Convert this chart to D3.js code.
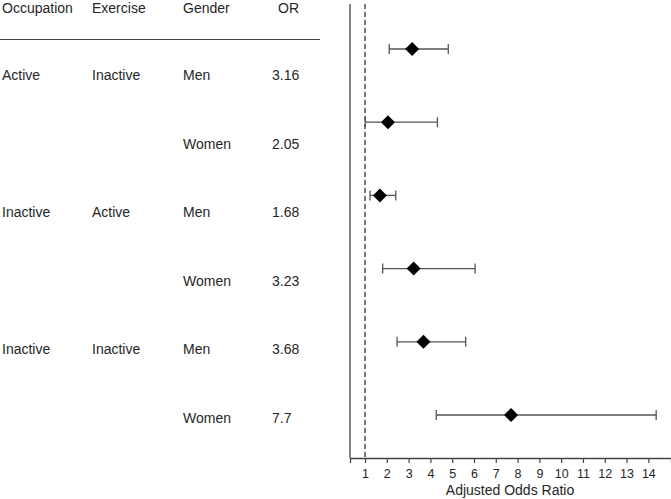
<!DOCTYPE html>
<html><head><meta charset="utf-8">
<script src="https://cdn.jsdelivr.net/npm/d3@7"></script>
<style>body{margin:0;background:#fff}svg{display:block}text{font-family:Arial,"Liberation Sans",sans-serif}</style>
</head><body><svg id="c" width="671" height="499"></svg>
<script>
const occupation = ["Active", "", "Inactive", "", "Inactive", ""];
const exercise   = ["Inactive", "", "Active", "", "Inactive", ""];
const gender     = ["Men", "Women", "Men", "Women", "Men", "Women"];
const orLabels   = ["3.16", "2.05", "1.68", "3.23", "3.68", "7.7"];
const orValues   = [3.16, 2.05, 1.68, 3.23, 3.68, 7.7];
const ciLow      = [2.11, 1.01, 1.23, 1.81, 2.47, 4.27];
const ciHigh     = [4.82, 4.32, 2.41, 6.05, 5.62, 14.36];
const headers    = ["Occupation", "Exercise", "Gender", "OR"];
const tickValues = [1,2,3,4,5,6,7,8,9,10,11,12,13,14];

const svg = d3.select("#c");
const rows = d3.range(orValues.length);

const x = d3.scaleLinear().domain([0.31, 15.04]).range([350, 671]);
const yPt = d3.scalePoint().domain(rows).range([49, 415]);
const yTx = d3.scalePoint().domain(rows).range([75, 418]);
const axisY = 458;
const textColor = "#262626";

// table header
const colX = [2, 92, 183, 278];
svg.selectAll("text.hdr").data(headers).join("text")
  .attr("class","hdr").attr("x",(d,i)=>colX[i]).attr("y",8)
  .attr("dy","0.35em").attr("font-size",14).attr("fill",textColor).text(d=>d);
svg.append("line").attr("x1",0).attr("x2",320).attr("y1",39.5).attr("y2",39.5)
  .attr("stroke","#444").attr("stroke-width",1.2);

// table body
const cols = [occupation, exercise, gender, orLabels];
const bodyX = [2, 92, 183, 272];
cols.forEach((arr,ci)=>{
  svg.append("g").selectAll("text").data(arr).join("text")
    .attr("x",bodyX[ci]).attr("y",(d,i)=>yTx(i)).attr("dy","0.35em")
    .attr("font-size",14).attr("fill",textColor).text(d=>d);
});

// vertical frame line & reference line
svg.append("line").attr("x1",350).attr("x2",350).attr("y1",4).attr("y2",axisY)
  .attr("stroke","#444").attr("stroke-width",1.3);
svg.append("line").attr("x1",x(1)).attr("x2",x(1)).attr("y1",4).attr("y2",axisY)
  .attr("stroke","#222").attr("stroke-width",1.2).attr("stroke-dasharray","5,3");

// axis
const axis = d3.axisBottom(x).tickValues(tickValues).tickSizeOuter(0).tickSize(5).tickPadding(6).tickFormat(d3.format("d"));
const gA = svg.append("g").attr("transform",`translate(0,${axisY})`).call(axis);
gA.select(".domain").attr("stroke","#444").attr("stroke-width",1.3);
gA.selectAll(".tick line").attr("stroke","#444").attr("stroke-width",1.2);
gA.selectAll(".tick text").attr("font-size",12.5).attr("fill",textColor)
  .attr("font-family","Arial, 'Liberation Sans', sans-serif");
svg.append("text").attr("x",510).attr("y",490).attr("text-anchor","middle")
  .attr("dy","0.35em").attr("font-size",14).attr("fill",textColor).text("Adjusted Odds Ratio");

// error bars
const g = svg.append("g");
const cap = 5;
g.selectAll("line.ci").data(rows).join("line").attr("class","ci")
  .attr("x1",i=>x(ciLow[i])).attr("x2",i=>x(ciHigh[i]))
  .attr("y1",i=>yPt(i)).attr("y2",i=>yPt(i)).attr("stroke","#555").attr("stroke-width",1.3);
g.selectAll("line.lo").data(rows).join("line").attr("class","lo")
  .attr("x1",i=>x(ciLow[i])).attr("x2",i=>x(ciLow[i]))
  .attr("y1",i=>yPt(i)-cap).attr("y2",i=>yPt(i)+cap).attr("stroke","#555").attr("stroke-width",1.3);
g.selectAll("line.hi").data(rows).join("line").attr("class","hi")
  .attr("x1",i=>x(ciHigh[i])).attr("x2",i=>x(ciHigh[i]))
  .attr("y1",i=>yPt(i)-cap).attr("y2",i=>yPt(i)+cap).attr("stroke","#555").attr("stroke-width",1.3);
const r = 7;
g.selectAll("path.pt").data(rows).join("path").attr("class","pt")
  .attr("transform",i=>`translate(${x(orValues[i])},${yPt(i)})`)
  .attr("d",`M0,${-r}L${r},0L0,${r}L${-r},0Z`).attr("fill","#000");
</script></body></html>
